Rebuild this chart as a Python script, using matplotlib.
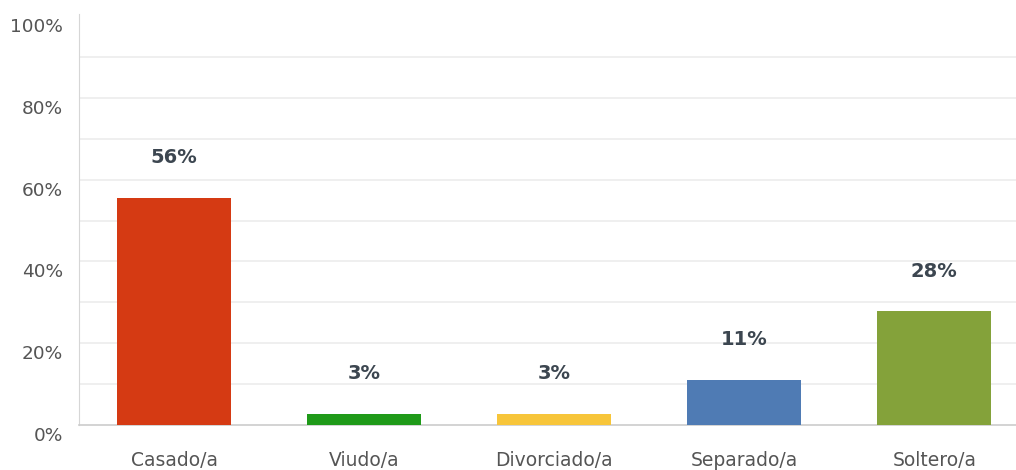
import matplotlib.pyplot as plt
import matplotlib.transforms as mtransforms

categories = ['Casado/a', 'Viudo/a', 'Divorciado/a', 'Separado/a', 'Soltero/a']
values = [55.56, 2.78, 2.78, 11.11, 27.78]
labels = ['56%', '3%', '3%', '11%', '28%']
colors = ['#d53a13', '#1f9a19', '#f7c53a', '#4f7bb4', '#84a23a']

plt.rcParams['font.family'] = ['DejaVu Sans']

fig = plt.figure(figsize=(10.16, 4.70), dpi=100)
ax = fig.add_axes([79 / 1016, 1 - 425 / 470, 1 - 79 / 1016, (425 - 16) / 470])

x = range(len(categories))
ax.bar(x, values, width=0.6, color=colors, zorder=3)

for i, v in enumerate(values):
    ax.annotate(labels[i], (i, v), xytext=(0, 29), textcoords='offset points',
                ha='center', va='center', fontsize=14, fontweight='bold',
                color='#3c4650')

ax.set_xlim(-0.5, 4.43)
ax.set_ylim(0, 100)
ax.set_yticks(range(0, 101, 20))
ax.set_yticklabels([str(t) + '%' for t in range(0, 101, 20)])
for g in range(10, 100, 10):
    ax.axhline(g, color='#ececec', lw=1.2, zorder=1)

ax.set_xticks(list(x))
ax.set_xticklabels(categories)
ax.tick_params(axis='x', length=0, pad=19, labelsize=13.5, labelcolor='#555555')
ax.tick_params(axis='y', length=0, pad=11.5, labelsize=13.3, labelcolor='#555555')
off = mtransforms.ScaledTranslation(0, -9 / 100, fig.dpi_scale_trans)
for lab in ax.get_yticklabels():
    lab.set_transform(lab.get_transform() + off)

for s in ['top', 'right']:
    ax.spines[s].set_visible(False)
ax.spines['left'].set_color('#d6d6d6')
ax.spines['left'].set_bounds(0, 100.5)
ax.spines['bottom'].set_color('#cccccc')
ax.spines['bottom'].set_linewidth(1.2)

fig.savefig('out.png', dpi=100)
